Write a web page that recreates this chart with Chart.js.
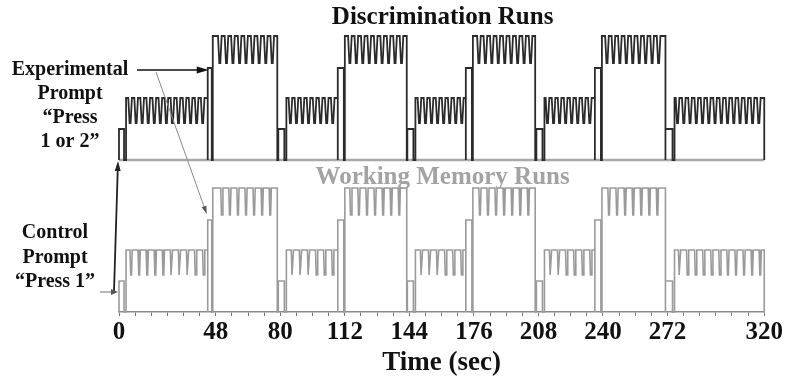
<!DOCTYPE html>
<html><head><meta charset="utf-8">
<script src="https://cdn.jsdelivr.net/npm/chart.js@4"></script>
<style>html,body{margin:0;padding:0;background:#fff;overflow:hidden}#wrap{width:785px;height:382px;position:relative}</style>
</head><body><div id="wrap"><canvas id="c" width="785" height="382"></canvas></div>
<script>
const tickLabels = [0, 48, 80, 112, 144, 176, 208, 240, 272, 320];
const runTitles = ['Discrimination Runs', 'Working Memory Runs'];
// block schedule, seconds
const blockTypes  = ['low', 'high', 'low', 'high', 'low', 'high', 'low', 'high', 'low'];
const promptStart = [0, 44, 79, 108.5, 143, 172, 207, 236, 271];
const promptEnd   = [2.5, 46, 82, 111.5, 146, 175, 210, 239, 274.5];
const taskStart   = [3.5, 46.5, 83, 112, 147, 175.5, 211, 239.5, 275.5];
const taskEnd     = [44, 78.5, 108.5, 142.7, 172, 206.4, 236, 271, 320];
// signal levels (relative units): [low block, high block]
const promptLevel = [31, 92];
const dipLevel    = [37, 97];
const topLevel    = [62, 124];
const traceOffset = [152, 0]; // discrimination trace sits above working-memory trace
// trial (response) times per block, seconds
const discTrials = [
  [5.5, 8.5, 11.5, 14.5, 17.5, 20.5, 23.5, 26.5, 29.5, 32.5, 35.5, 38.5, 41.5],
  [50, 53.3, 56.5, 59.8, 63, 66.3, 69.5, 72.8, 76],
  [85, 88, 91, 94, 97, 100, 103, 106],
  [114.5, 117.7, 120.9, 124.1, 127.3, 130.5, 133.7, 136.9, 140.1],
  [149, 152, 155, 158, 161, 164, 167, 170],
  [178.5, 181.7, 184.9, 188.1, 191.3, 194.5, 197.7, 200.9, 204.1],
  [212.5, 215.5, 218.5, 221.5, 224.5, 227.5, 230.5, 233.5],
  [242, 245.2, 248.4, 251.6, 254.8, 258, 261.2, 264.4, 267.6],
  [277, 280.1, 283.2, 286.3, 289.4, 292.5, 295.6, 298.7, 301.8, 304.9, 308, 311.1, 314.2, 317.3]
];
const wmTrials = [
  [6, 10, 14, 18, 22, 26, 30, 34, 38, 42],
  [51, 55, 59, 63, 67, 71, 75],
  [86, 90, 94, 98, 102, 106],
  [115, 119, 123, 127, 131, 135, 139],
  [150, 154, 158, 162, 166, 170],
  [179, 183, 187, 191, 195, 199, 203],
  [214, 218, 222, 226, 230, 234],
  [243, 247, 251, 255, 259, 263, 267],
  [278, 282, 286, 290, 294, 298, 302, 306, 310, 314, 318]
];

// ---- Build step traces from the arrays ----
function buildTrace(trials, off, outer, inner) {
  const pts = [{x: 0, y: off}];
  blockTypes.forEach((type, i) => {
    const k = type === 'high' ? 1 : 0;
    pts.push({x: promptStart[i], y: off}, {x: promptStart[i], y: off + promptLevel[k]},
             {x: promptEnd[i], y: off + promptLevel[k]}, {x: promptEnd[i], y: off},
             {x: taskStart[i], y: off}, {x: taskStart[i], y: off + topLevel[k]});
    trials[i].forEach(t => {
      pts.push({x: t - outer, y: off + topLevel[k]}, {x: t - inner, y: off + dipLevel[k]},
               {x: t + inner, y: off + dipLevel[k]}, {x: t + outer, y: off + topLevel[k]});
    });
    pts.push({x: taskEnd[i], y: off + topLevel[k]}, {x: taskEnd[i], y: off});
  });
  return pts;
}

const SERIF = '"Liberation Serif", "Times New Roman", serif';

const annot = {
  id: 'annot',
  afterDraw(chart) {
    const {ctx, chartArea: ca, scales: {x, y}} = chart;
    const cx = (ca.left + ca.right) / 2;
    ctx.save();
    ctx.textAlign = 'center';
    ctx.textBaseline = 'middle';
    // run titles
    ctx.font = 'bold 25px ' + SERIF;
    ctx.fillStyle = '#111';
    ctx.fillText(runTitles[0], cx + 1, ca.top + 10);
    ctx.fillStyle = '#a3a3a3';
    ctx.fillText(runTitles[1], cx + 1, y.getPixelForValue(traceOffset[1] + topLevel[1]) - 10);
    // left annotations
    ctx.font = 'bold 20px ' + SERIF;
    ctx.fillStyle = '#111';
    ['Experimental', 'Prompt', '\u201CPress', '1 or 2\u201D'].forEach((s, i) => ctx.fillText(s, 70, 70 + i * 24));
    ['Control', 'Prompt', '\u201CPress 1\u201D'].forEach((s, i) => ctx.fillText(s, 55, 233 + i * 24.5));

    function arrow(x0, y0, x1, y1, color, w, headLen, headW, headColor) {
      const a = Math.atan2(y1 - y0, x1 - x0);
      ctx.strokeStyle = color; ctx.lineWidth = w;
      ctx.beginPath(); ctx.moveTo(x0, y0);
      ctx.lineTo(x1 - Math.cos(a) * headLen * 0.7, y1 - Math.sin(a) * headLen * 0.7); ctx.stroke();
      ctx.fillStyle = headColor || color;
      ctx.beginPath();
      ctx.moveTo(x1, y1);
      ctx.lineTo(x1 - Math.cos(a) * headLen - Math.sin(a) * headW, y1 - Math.sin(a) * headLen + Math.cos(a) * headW);
      ctx.lineTo(x1 - Math.cos(a) * headLen + Math.sin(a) * headW, y1 - Math.sin(a) * headLen - Math.cos(a) * headW);
      ctx.closePath(); ctx.fill();
    }
    const pxHighPrompt = x.getPixelForValue(promptStart[1]);
    const pxFirstPrompt = x.getPixelForValue(promptStart[0]);
    // experimental prompt arrows
    arrow(137, 70, pxHighPrompt + 1, 70, '#111', 1.6, 12, 3.5);
    arrow(156, 72, pxHighPrompt - 1, y.getPixelForValue(traceOffset[1] + promptLevel[1]) - 6, '#8a8a8a', 1, 8, 2.5, '#555');
    // control prompt arrows
    arrow(114, 292, pxFirstPrompt - 1, y.getPixelForValue(traceOffset[0]) + 1, '#222', 1.8, 10, 3);
    arrow(100, 292, pxFirstPrompt - 1, 292, '#8a8a8a', 1.2, 7, 3, '#555');
    ctx.restore();
  }
};

new Chart(document.getElementById('c'), {
  type: 'line',
  data: {
    datasets: [
      {label: 'Discrimination', data: buildTrace(discTrials, traceOffset[0], 0.9, 0.25),
       borderColor: '#2b2b2b', borderWidth: 1.8, order: 1},
      {label: 'Working Memory', data: buildTrace(wmTrials, traceOffset[1], 0.55, 0.2),
       borderColor: '#9a9a9a', borderWidth: 1.6, order: 1},
      {label: 'baseline', data: [{x: 0, y: traceOffset[0]}, {x: 320, y: traceOffset[0]}],
       borderColor: '#a9a9a9', borderWidth: 2.5, order: 3}
    ]
  },
  options: {
    responsive: false,
    animation: false,
    events: [],
    layout: {padding: {left: 119, right: 18, top: 8, bottom: 0}},
    elements: {point: {radius: 0}, line: {tension: 0, fill: false}},
    datasets: {line: {clip: 4}},
    plugins: {legend: {display: false}, tooltip: {enabled: false}, title: {display: false}},
    scales: {
      x: {
        type: 'linear', min: 0, max: 320,
        afterFit: s => { s.height = 70; },
        afterBuildTicks: s => { s.ticks = []; for (let v = 0; v <= 320; v += 8) s.ticks.push({value: v}); },
        ticks: {
          autoSkip: false, maxRotation: 0, padding: 2, color: '#111',
          font: {family: SERIF, size: 25, weight: 'bold'},
          callback: v => tickLabels.includes(v) ? String(v) : ''
        },
        grid: {drawOnChartArea: false, drawTicks: true, tickLength: 4, color: '#777', lineWidth: 1},
        border: {display: true, color: '#8a8a8a', width: 1.5},
        title: {display: true, text: 'Time (sec)', color: '#111',
                font: {family: SERIF, size: 27, weight: 'bold'}, padding: {top: 0, bottom: 3}}
      },
      y: {type: 'linear', display: false, min: 0, max: 304}
    }
  },
  plugins: [annot]
});
</script></body></html>
